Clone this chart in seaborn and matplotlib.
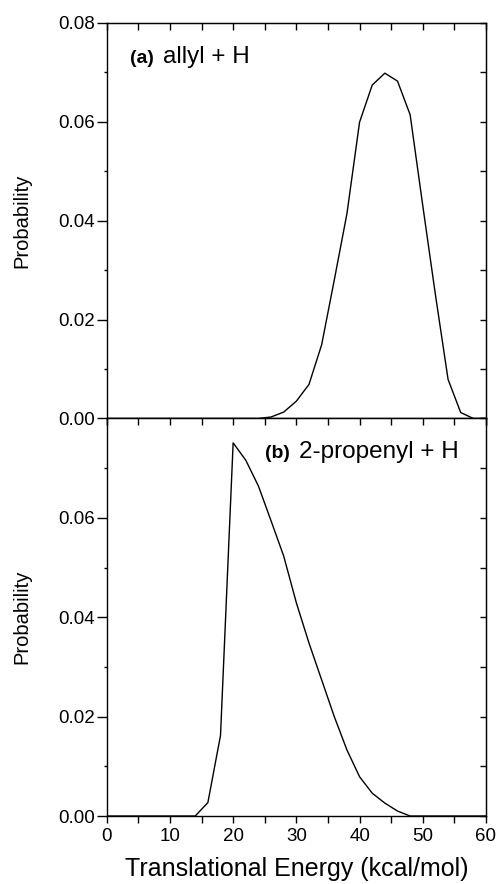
import matplotlib
matplotlib.use("Agg")
import matplotlib.pyplot as plt
import seaborn as sns

# translational energy grid (kcal/mol)
energy = [0, 2, 4, 6, 8, 10, 12, 14, 16, 18, 20, 22, 24, 26, 28, 30,
          32, 34, 36, 38, 40, 42, 44, 46, 48, 50, 52, 54, 56, 58, 60]

# (a) allyl + H
p_allyl = [0, 0, 0, 0, 0, 0, 0, 0, 0, 0, 0, 0, 0.0, 0.0003, 0.0013, 0.0035,
           0.0069, 0.0149, 0.0280, 0.0414, 0.0599, 0.0674, 0.0698, 0.0682, 0.0614, 0.0430,
           0.0250, 0.0079, 0.0012, 0.0, 0.0]

# (b) 2-propenyl + H
p_propenyl = [0, 0, 0, 0, 0, 0, 0, 0.0, 0.0027, 0.0162, 0.0751, 0.0716, 0.0664, 0.0594,
              0.0523, 0.0429, 0.0348, 0.0274, 0.0200, 0.0133, 0.0079, 0.0046, 0.0026,
              0.0010, 0.0, 0.0, 0.0, 0.0, 0.0, 0.0, 0.0]

x_major = [0, 10, 20, 30, 40, 50, 60]
x_all = [0, 5, 10, 15, 20, 25, 30, 35, 40, 45, 50, 55, 60]
y_minor = [0.01, 0.03, 0.05, 0.07]
y_all = [0.0, 0.01, 0.02, 0.03, 0.04, 0.05, 0.06, 0.07, 0.08]

sns.set_style("ticks")
plt.rcParams['font.family'] = ['Liberation Sans', 'DejaVu Sans']
plt.rcParams['text.color'] = 'black'
plt.rcParams['axes.labelcolor'] = 'black'
plt.rcParams['xtick.color'] = 'black'
plt.rcParams['ytick.color'] = 'black'

fig = plt.figure(figsize=(4.98, 8.84), dpi=100)
ax_a = fig.add_axes([0.2143, 0.5266, 0.7616, 0.4477])
ax_b = fig.add_axes([0.2143, 0.0769, 0.7616, 0.4497])


def style_panel(ax, yticks, show_xlabels):
    ax.set_xlim(0, 60)
    ax.set_ylim(0, 0.08)
    for sp in ax.spines.values():
        sp.set_visible(True)
        sp.set_color('black')
        sp.set_linewidth(1.0)
    ax.set_xticks(x_major)
    ax.set_xticks(x_all, minor=True)
    ax.set_yticks(yticks)
    ax.set_yticklabels([f"{v:.2f}" for v in yticks])
    ax.set_yticks(y_minor, minor=True)
    ax.tick_params(axis='x', which='both', direction='out', length=5, width=1,
                   top=False, pad=3.5, labelsize=13.5, labelbottom=show_xlabels)
    ax.tick_params(axis='y', which='major', direction='out', length=7, width=1,
                   right=False, pad=1.5, labelsize=13.5)
    ax.tick_params(axis='y', which='minor', direction='out', length=2.5, width=1,
                   right=False)
    # inward ticks on the top and right spines
    sx = ax.secondary_xaxis('top')
    sx.set_xticks(x_all)
    sx.tick_params(direction='in', length=5, width=1, labeltop=False)
    sy = ax.secondary_yaxis('right')
    sy.set_yticks(y_all)
    sy.tick_params(direction='in', length=4.5, width=1, labelright=False)
    ax.set_ylabel("Probability", fontsize=14.5, labelpad=19)


sns.lineplot(x=energy, y=p_allyl, ax=ax_a, color='black', linewidth=1.0)
sns.lineplot(x=energy, y=p_propenyl, ax=ax_b, color='black', linewidth=1.0)

style_panel(ax_a, [0.0, 0.02, 0.04, 0.06, 0.08], False)
style_panel(ax_b, [0.0, 0.02, 0.04, 0.06], True)

ax_b.set_xlabel("Translational Energy (kcal/mol)", fontsize=18, labelpad=9)

ax_a.text(3.7, 0.0719, "(a)", fontsize=14, fontweight='bold', va='baseline', ha='left')
ax_a.text(8.9, 0.0719, "allyl + H", fontsize=17.5, va='baseline', ha='left')
ax_b.text(25.1, 0.0721, "(b)", fontsize=14, fontweight='bold', va='baseline', ha='left')
ax_b.text(30.4, 0.0721, "2-propenyl + H", fontsize=17.5, va='baseline', ha='left')

fig.savefig("out.png", dpi=100)
